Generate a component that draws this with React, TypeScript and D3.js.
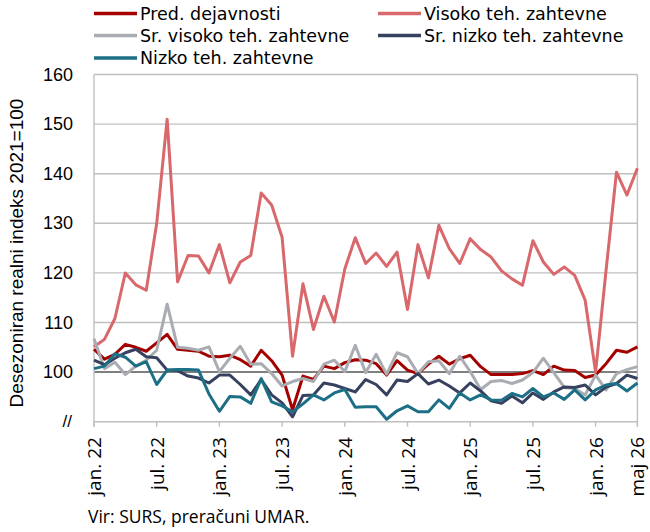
import * as d3 from 'd3';

const monthNames = ['jan.', 'feb.', 'mar.', 'apr.', 'maj', 'jun.', 'jul.', 'avg.', 'sep.', 'okt.', 'nov.', 'dec.'];
const months = d3.range(53).map((i) => `${monthNames[i % 12]} ${22 + Math.floor(i / 12)}`);

const tickMonths = ['jan. 22', 'jul. 22', 'jan. 23', 'jul. 23', 'jan. 24', 'jul. 24', 'jan. 25', 'jul. 25', 'jan. 26', 'maj 26'];
const yTicks = [100, 110, 120, 130, 140, 150, 160];

const pred = [
    104.6, 102.6, 103.6, 105.6, 105.0, 104.2, 105.9, 107.6, 104.6, 104.4,
    104.2, 103.2, 103.1, 103.4, 102.5, 101.2, 104.4, 102.3, 99.4, 92.4,
    99.2, 98.5, 101.2, 100.7, 101.9, 102.5, 102.4, 101.7, 99.4, 102.3,
    100.4, 99.7, 101.6, 103.2, 101.6, 102.7, 103.4, 101.1, 99.5, 99.5,
    99.5, 99.7, 100.3, 99.5, 101.2, 100.4, 100.3, 98.9, 99.4, 101.7,
    104.4, 104.0, 105.1,
];
const visoko = [
    105.1, 106.6, 110.8, 120.0, 117.6, 116.5, 130.0, 151.0, 118.2, 123.5,
    123.4, 120.0, 125.7, 118.0, 122.2, 123.5, 136.1, 133.7, 127.2, 103.2,
    117.8, 108.6, 115.3, 110.1, 120.8, 127.1, 121.9, 124.0, 121.3, 124.2,
    112.6, 125.7, 119.0, 129.6, 124.9, 121.9, 126.9, 124.7, 123.2, 120.4,
    118.8, 117.5, 126.5, 122.2, 119.7, 121.2, 119.5, 114.5, 100.0, 120.5,
    140.3, 135.7, 141.1,
];
const srVisoko = [
    106.7, 100.7, 102.0, 99.5, 101.2, 102.4, 104.4, 113.7, 105.0, 104.8,
    104.4, 105.1, 100.1, 102.8, 105.2, 101.6, 101.7, 99.7, 97.2, 98.1,
    98.7, 98.1, 101.6, 102.4, 100.1, 105.4, 99.9, 103.6, 99.6, 103.9,
    103.1, 99.7, 102.1, 102.3, 99.7, 103.2, 100.1, 96.5, 98.1, 98.3,
    97.7, 98.4, 99.9, 102.8, 99.9, 96.9, 96.7, 95.4, 99.4, 96.4,
    99.7, 100.5, 101.1,
];
const srNizko = [
    102.4, 101.5, 102.8, 103.9, 104.6, 103.1, 102.9, 100.4, 100.3, 99.2,
    98.8, 97.8, 99.4, 99.4, 97.5, 95.4, 98.5, 95.4, 93.8, 91.0,
    95.3, 95.4, 97.8, 97.4, 96.7, 96.0, 98.5, 97.5, 95.4, 98.4,
    98.1, 99.7, 97.6, 98.4, 97.2, 95.8, 97.8, 96.2, 94.2, 93.7,
    95.2, 93.8, 95.8, 94.5, 96.0, 97.0, 96.9, 97.4, 95.4, 97.0,
    97.7, 99.4, 98.7,
];
const nizko = [
    100.7, 101.2, 103.7, 103.0, 101.2, 102.1, 97.5, 100.4, 100.5, 100.5,
    100.4, 95.6, 92.1, 95.1, 95.0, 93.7, 98.7, 94.0, 93.2, 92.0,
    93.6, 95.4, 94.4, 95.8, 96.5, 92.9, 93.0, 93.0, 90.5, 92.2,
    93.2, 92.0, 92.0, 94.4, 92.7, 95.8, 94.4, 95.4, 94.4, 94.3,
    95.7, 95.0, 96.7, 95.0, 95.8, 94.5, 96.4, 94.4, 96.4, 97.4,
    97.7, 96.2, 97.8,
];

const series = [
    { name: 'Pred. dejavnosti', values: pred, color: '#a40000' },
    { name: 'Visoko teh. zahtevne', values: visoko, color: '#d8686b' },
    { name: 'Sr. visoko teh. zahtevne', values: srVisoko, color: '#a9adb2' },
    { name: 'Sr. nizko teh. zahtevne', values: srNizko, color: '#37415f' },
    { name: 'Nizko teh. zahtevne', values: nizko, color: '#1c6f85' },
];

const width = 650;
const height = 532;
const left = 94;
const right = 637.4;
const top = 74.5;
const bottom = 421.7;

const gridColor = '#bfbfbf';
const labelFont = '"Open Sans", sans-serif';
const legendFont = '"DejaVu Sans", sans-serif';
const numFont = '"Liberation Sans", Arial, sans-serif';

export default function App() {
    const x = d3.scalePoint<string>().domain(months).range([left, right]);
    const y = d3.scaleLinear().domain([90, 160]).range([bottom, top]);

    const line = d3
        .line<number>()
        .x((_, i) => x(months[i]) ?? 0)
        .y((d) => y(d));

    const legendPos = [
        { x: 94, y: 13.5 },
        { x: 378, y: 13.5 },
        { x: 94, y: 35.5 },
        { x: 378, y: 35.5 },
        { x: 94, y: 58 },
    ];

    return (
        <svg
            width={width}
            height={height}
            style={{ position: 'absolute', left: 0, top: 0, background: '#fff' }}
        >
            {/* grid */}
            {yTicks.map((t) => (
                <line
                    key={t}
                    x1={left}
                    x2={right}
                    y1={y(t)}
                    y2={y(t)}
                    stroke={t === 100 ? '#7f7f7f' : gridColor}
                    strokeWidth={t === 100 ? 2 : 1.4}
                />
            ))}
            <line x1={left} x2={left} y1={top} y2={bottom + 5} stroke={gridColor} strokeWidth={1.4} />
            <line x1={right} x2={right} y1={top} y2={bottom + 5} stroke={gridColor} strokeWidth={1.4} />
            <line x1={left} x2={right} y1={bottom} y2={bottom} stroke={gridColor} strokeWidth={1.4} />
            {tickMonths.map((m) => (
                <line
                    key={m}
                    x1={x(m)}
                    x2={x(m)}
                    y1={bottom}
                    y2={bottom + 5}
                    stroke={gridColor}
                    strokeWidth={1.4}
                />
            ))}

            {/* y labels */}
            {yTicks.map((t) => (
                <text
                    key={t}
                    x={73}
                    y={y(t)}
                    textAnchor="end"
                    dominantBaseline="central"
                    fontFamily={numFont}
                    fontSize={18}
                    fill="#000"
                >
                    {t}
                </text>
            ))}
            <text
                x={72}
                y={y(90)}
                textAnchor="end"
                dominantBaseline="central"
                fontFamily={numFont}
                fontSize={17}
                fill="#000"
            >
                //
            </text>
            <text
                transform={`translate(23, ${(top + bottom) / 2 + 5}) rotate(-90)`}
                textAnchor="middle"
                fontFamily={numFont}
                fontSize={19}
                fill="#000"
            >
                Desezoniran realni indeks 2021=100
            </text>

            {/* x labels */}
            {tickMonths.map((m) => (
                <text
                    key={m}
                    transform={`translate(${x(m)}, 437) rotate(-90)`}
                    textAnchor="end"
                    dominantBaseline="central"
                    fontFamily={labelFont}
                    fontSize={19}
                    fill="#000"
                >
                    {m}
                </text>
            ))}

            {/* series */}
            {series.map((s) => (
                <path
                    key={s.name}
                    d={line(s.values) ?? ''}
                    fill="none"
                    stroke={s.color}
                    strokeWidth={3}
                    strokeLinejoin="round"
                />
            ))}

            {/* legend */}
            {series.map((s, i) => (
                <g key={s.name} transform={`translate(${legendPos[i].x}, ${legendPos[i].y})`}>
                    <line x1={0} x2={43} y1={0} y2={0} stroke={s.color} strokeWidth={3.5} />
                    <text
                        x={46}
                        y={0}
                        dominantBaseline="central"
                        fontFamily={legendFont}
                        fontSize={17.5}
                        fill="#000"
                    >
                        {s.name}
                    </text>
                </g>
            ))}

            <text x={88} y={523} fontFamily={labelFont} fontSize={17.5} fill="#000">
                Vir: SURS, preračuni UMAR.
            </text>
        </svg>
    );
}
